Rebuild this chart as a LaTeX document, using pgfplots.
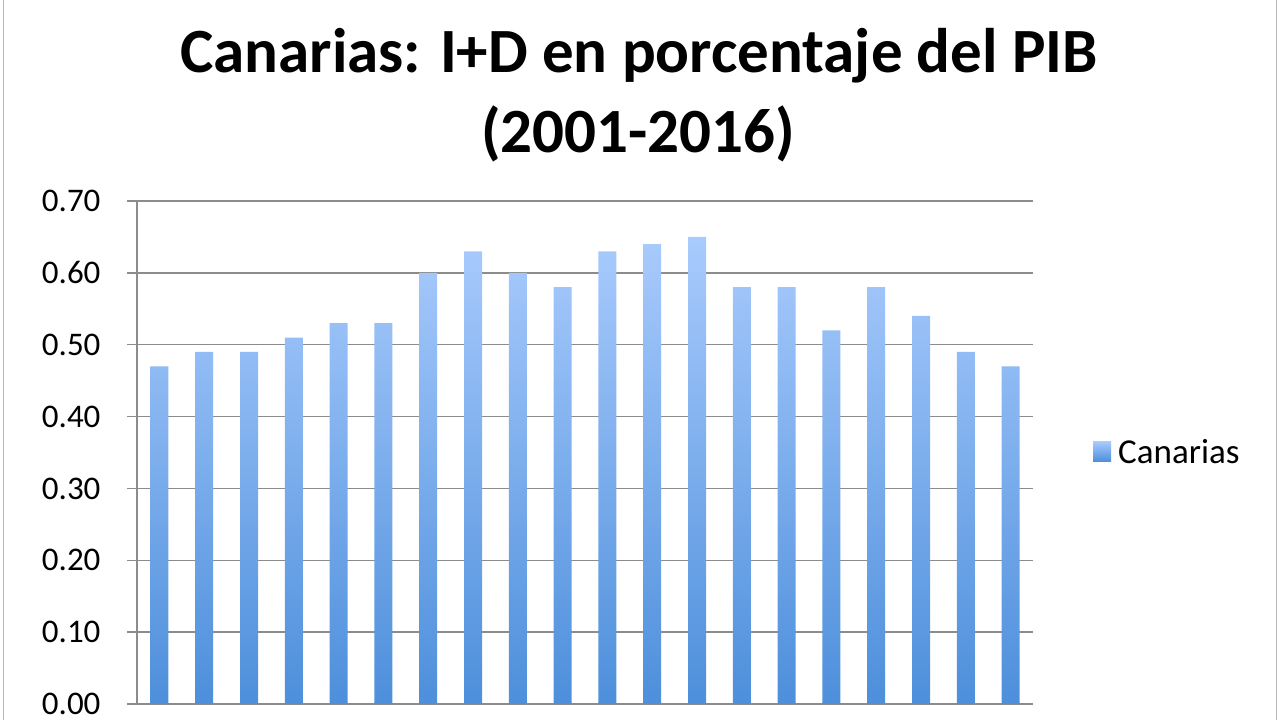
\documentclass[border=0pt]{standalone}
\usepackage{fontspec}
\setmainfont{Carlito}
\usepackage{pgfplots}
\pgfplotsset{compat=1.18}
\definecolor{barTop}{HTML}{A9CBFD}
\definecolor{barBot}{HTML}{4D8FDB}
\definecolor{gridc}{HTML}{8C8C8C}
\begin{document}
\begin{tikzpicture}
\path[use as bounding box] (0,0) rectangle (1280pt,720pt);
\draw[gray!55, line width=1.5pt] (3.5pt,0) -- (3.5pt,720pt);
\draw[gray!55, line width=1.5pt] (1276.5pt,0) -- (1276.5pt,720pt);
\node[font=\fontsize{63}{78}\selectfont\bfseries, anchor=base] at (639pt,647pt) {Canarias: I+D en porcentaje del PIB};
\node[font=\fontsize{63}{78}\selectfont\bfseries, anchor=base] at (638pt,567pt) {(2001-2016)};
\begin{axis}[
  at={(137pt,16pt)}, anchor=south west,
  scale only axis, width=896pt, height=503pt,
  xmin=-0.5, xmax=19.5, ymin=0, ymax=0.7,
  xtick=\empty,
  ytick={0,0.1,0.2,0.3,0.4,0.5,0.6,0.7},
  ymajorgrids, grid style={gridc, line width=1.5pt},
  axis x line*=bottom, axis y line*=left,
  axis line style={gridc, line width=1.5pt},
  tick style={gridc, line width=1.5pt},
  tick align=outside, major tick length=10pt,
  yticklabel style={font=\fontsize{33}{36}\selectfont, xshift=-23pt, /pgf/number format/.cd, fixed, fixed zerofill, precision=2, assume math mode=true},
  legend style={at={(1.0614,0.5)}, anchor=west, draw=none, fill=none, font=\fontsize{35}{38}\selectfont, legend cell align=left},
]
\addplot[ybar, bar width=18pt, bar shift=0pt, draw=none, top color=barTop, bottom color=barBot,
  legend image code/.code={\path (0pt,0pt) -- (25pt,0pt); \shade[top color=barTop, bottom color=barBot] (2pt,-9pt) rectangle (20pt,11pt);}]
coordinates {(0,0.47) (1,0.49) (2,0.49) (3,0.51) (4,0.53) (5,0.53) (6,0.60) (7,0.63) (8,0.60) (9,0.58) (10,0.63) (11,0.64) (12,0.65) (13,0.58) (14,0.58) (15,0.52) (16,0.58) (17,0.54) (18,0.49) (19,0.47)};
\addlegendentry{Canarias}
\end{axis}
\end{tikzpicture}
\end{document}
